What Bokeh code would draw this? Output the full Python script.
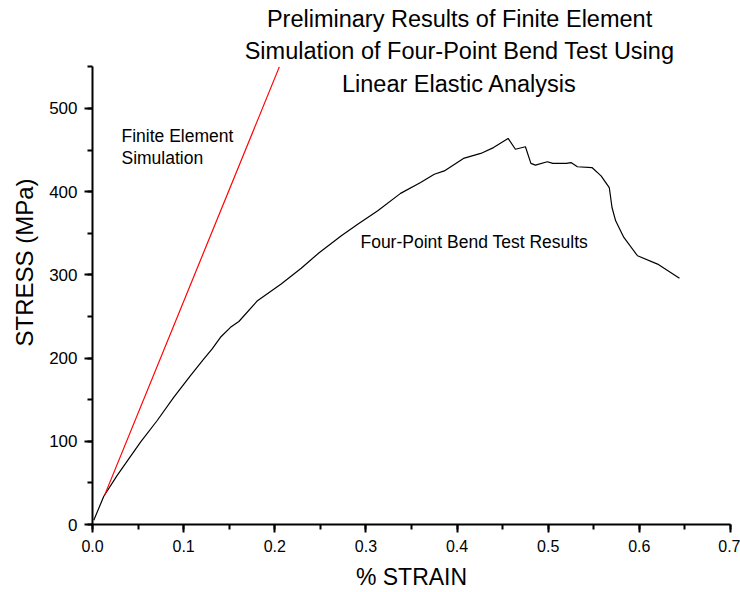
from bokeh.plotting import figure
from bokeh.models import Range1d, Label, SingleIntervalTicker, PrintfTickFormatter
from bokeh.embed import file_html
from bokeh.resources import INLINE

# ---- data ----
test_strain = [0.0014, 0.0124, 0.0271, 0.0527, 0.0710, 0.0893, 0.1075, 0.1222, 0.1313, 0.1404,
               0.1514, 0.1606, 0.181, 0.207, 0.229, 0.249, 0.273, 0.291, 0.313, 0.338,
               0.360, 0.375, 0.386, 0.407, 0.426, 0.440, 0.456, 0.464, 0.475, 0.481,
               0.486, 0.499, 0.505, 0.520, 0.525, 0.532, 0.548, 0.558, 0.567, 0.570,
               0.574, 0.583, 0.598, 0.620, 0.644]
test_stress = [5, 34, 59, 99, 125, 153, 179, 199, 211, 225,
               237, 244, 269, 289, 308, 327, 347, 361, 377, 398,
               411, 421, 425, 440, 446, 453, 464, 451, 454, 434,
               432, 436, 434, 434, 435, 430, 429, 419, 405, 381,
               365, 345, 323, 313, 296]
fe_strain = [0.0132, 0.205]
fe_stress = [35, 550]

title_lines = ["Preliminary Results of Finite Element",
               "Simulation of Four-Point Bend Test Using",
               "Linear Elastic Analysis"]

FONT = "Liberation Sans"

p = figure(width=740, height=592, output_backend="svg", toolbar_location=None,
           x_range=Range1d(0, 0.70001), y_range=Range1d(0, 629.8),
           min_border_left=92, min_border_right=10, min_border_top=0,
           min_border_bottom=68)
p.outline_line_color = None
p.xgrid.visible = False
p.ygrid.visible = False
p.background_fill_color = "white"
p.border_fill_color = "white"

p.line(test_strain, test_stress, line_color="black", line_width=1.2)
p.line(fe_strain, fe_stress, line_color="red", line_width=1.2)

for ax in (p.xaxis[0], p.yaxis[0]):
    ax.axis_line_width = 2
    ax.axis_line_color = "black"
    ax.major_tick_line_width = 2
    ax.minor_tick_line_width = 2
    ax.major_tick_line_color = "black"
    ax.minor_tick_line_color = "black"
    ax.major_tick_in = 0
    ax.major_tick_out = 8
    ax.minor_tick_in = 0
    ax.minor_tick_out = 5
    ax.major_label_text_font = FONT
    ax.major_label_text_color = "black"
    ax.axis_label_text_font = FONT
    ax.axis_label_text_font_style = "normal"
    ax.axis_label_text_color = "black"

xa = p.xaxis[0]
xa.ticker = SingleIntervalTicker(interval=0.1, num_minor_ticks=2)
xa.formatter = PrintfTickFormatter(format="%.1f")
xa.major_label_text_font_size = "16px"
xa.major_label_standoff = 7
xa.axis_label = "% STRAIN"
xa.axis_label_text_font_size = "23px"
xa.axis_label_standoff = 9

ya = p.yaxis[0]
ya.ticker = SingleIntervalTicker(interval=100, num_minor_ticks=2)
ya.bounds = (0, 550)
ya.major_label_text_font_size = "17px"
ya.major_label_standoff = 7
ya.axis_label = "STRESS (MPa)"
ya.axis_label_text_font_size = "24px"
ya.axis_label_standoff = 8

for t, yy in zip(title_lines, [607, 569.7, 530]):
    p.add_layout(Label(x=0.4027, y=yy, text=t, text_align="center", text_baseline="middle",
                       text_font=FONT, text_font_size="23.5px", text_color="black"))

for t, yy in zip(["Finite Element", "Simulation"], [467.5, 440]):
    p.add_layout(Label(x=0.0318, y=yy, text=t, text_align="left", text_baseline="middle",
                       text_font=FONT, text_font_size="17.5px", text_color="black"))
p.add_layout(Label(x=0.294, y=340, text="Four-Point Bend Test Results", text_align="left",
                   text_baseline="middle", text_font=FONT, text_font_size="17.5px", text_color="black"))

open("out.html", "w").write(file_html(p, INLINE))
